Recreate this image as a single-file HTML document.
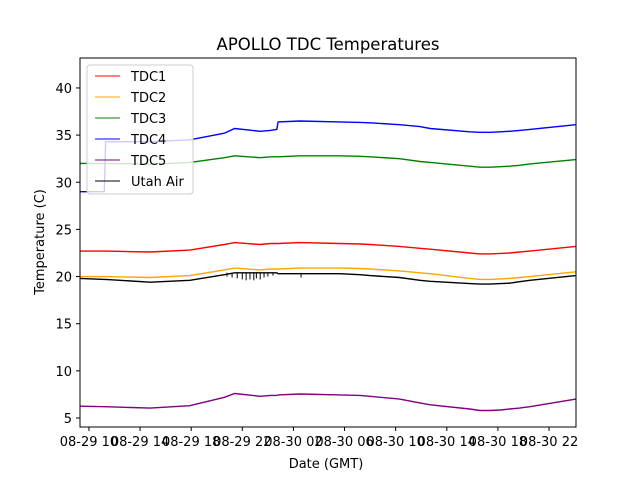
<!DOCTYPE html>
<html><head><meta charset="utf-8"><style>
body{margin:0;background:#fff;}
svg{display:block;font-family:"DejaVu Sans","Liberation Sans",sans-serif;}
</style></head><body>
<svg id="chart" width="640" height="480">
<rect width="640" height="480" fill="#fff"/>
<text x="328" y="50" text-anchor="middle" font-size="16.5">APOLLO TDC Temperatures</text>
<g id="series"></g>
<rect x="80" y="58" width="496" height="369" fill="none" stroke="#000" stroke-width="1"/>
<g id="yticks"></g><g id="xticks"></g>
<text x="326" y="468" text-anchor="middle" font-size="13">Date (GMT)</text>
<text transform="translate(44,242) rotate(-90)" text-anchor="middle" font-size="13">Temperature (C)</text>
<g id="legend"></g>
</svg>
<script>
const times = [9.3,11.2,11.3,14.8,17.9,20.6,21.4,23.4,24.2,24.7,24.8,26.5,29.6,31.2,32,34.3,35.9,36.7,39.8,40.6,41.4,42.2,42.9,43.7,44.5,48.1];
const tdc1 = [22.7,22.7,22.7,22.6,22.8,23.4,23.6,23.4,23.5,23.5,23.5,23.6,23.5,23.45,23.4,23.2,23.0,22.9,22.5,22.4,22.4,22.45,22.5,22.6,22.7,23.2];
const tdc2 = [20.0,20.0,20.0,19.9,20.1,20.7,20.9,20.7,20.8,20.8,20.8,20.9,20.9,20.85,20.8,20.6,20.4,20.3,19.8,19.7,19.7,19.75,19.8,19.9,20.0,20.5];
const tdc3 = [32.0,32.0,32.0,31.9,32.1,32.6,32.8,32.6,32.7,32.7,32.7,32.8,32.8,32.75,32.7,32.5,32.2,32.1,31.7,31.6,31.6,31.65,31.7,31.8,31.95,32.4];
const tdc4 = [29.0,29.0,34.3,34.3,34.5,35.2,35.7,35.4,35.5,35.6,36.4,36.5,36.4,36.35,36.3,36.1,35.9,35.7,35.35,35.3,35.3,35.35,35.4,35.5,35.6,36.1];
const tdc5 = [6.25,6.2,6.2,6.05,6.3,7.2,7.6,7.3,7.4,7.4,7.45,7.55,7.45,7.4,7.3,7.0,6.6,6.4,5.95,5.8,5.8,5.85,5.95,6.05,6.2,7.0];
const utah = [19.8,19.7,19.7,19.4,19.6,20.2,20.4,20.4,20.4,20.4,20.3,20.3,20.3,20.2,20.1,19.9,19.6,19.5,19.25,19.2,19.2,19.25,19.3,19.45,19.6,20.1];
const spikeTimes = [20.8,21.2,21.6,22.0,22.3,22.6,22.9,23.1,23.4,23.7,24.0,24.4,26.6];
const spikeLows = [20.0,19.9,19.8,19.7,19.6,19.7,19.6,19.8,19.7,19.9,20.0,20.1,19.9];
const yTicks = [5,10,15,20,25,30,35,40];
const xTickTimes = [10,14,18,22,26,30,34,38,42,46];
const xTickLabels = ["08-29 10","08-29 14","08-29 18","08-29 22","08-30 02","08-30 06","08-30 10","08-30 14","08-30 18","08-30 22"];
const seriesNames = ["TDC1","TDC2","TDC3","TDC4","TDC5","Utah Air"];
const seriesColors = ["#ff0000","#ffa500","#008000","#0000ff","#800080","#000000"];
const seriesData = [tdc1,tdc2,tdc3,tdc4,tdc5,utah];

const NS="http://www.w3.org/2000/svg";
const xS = t => 80 + (t-9.3)*12.78;
const yS = v => 418 - (v-5)*9.43;
function mk(tag,attrs,parent){const e=document.createElementNS(NS,tag);for(const k in attrs)e.setAttribute(k,attrs[k]);parent.appendChild(e);return e;}
const sg=document.getElementById('series');
seriesData.forEach((d,i)=>{
  const p=mk('polyline',{points:d.map((v,j)=>xS(times[j]).toFixed(1)+','+yS(v).toFixed(1)).join(' '),fill:'none',stroke:seriesColors[i],'stroke-width':1.4},sg);
  
  
});
spikeTimes.forEach((t,i)=>{
  const l=mk('line',{x1:xS(t),x2:xS(t),y1:yS(20.4),y2:yS(spikeLows[i]),stroke:'#000','stroke-width':1},sg);
  
  
});
const yt=document.getElementById('yticks');
yTicks.forEach(v=>{
  const l=mk('line',{x1:76,x2:80,y1:yS(v),y2:yS(v),stroke:'#000'},yt);
  
  
  const t=mk('text',{x:72,y:yS(v)+5,'text-anchor':'end','font-size':13},yt);
  t.textContent=v;
  
  
});
const xt=document.getElementById('xticks');
xTickTimes.forEach((tm,i)=>{
  const l=mk('line',{x1:xS(tm),x2:xS(tm),y1:427,y2:431,stroke:'#000'},xt);
  
  
  const t=mk('text',{x:xS(tm),y:446,'text-anchor':'middle','font-size':13},xt);
  t.textContent=xTickLabels[i];
  
  
});
const lg=document.getElementById('legend');
const box=mk('rect',{x:87,y:65,width:106,height:129,rx:3,fill:'#fff','fill-opacity':0.8,stroke:'#ccc'},lg);


seriesNames.forEach((n,i)=>{
  const y=76+i*21;
  const l=mk('line',{x1:95,x2:120,y1:y,y2:y,stroke:seriesColors[i],'stroke-width':1},lg);
  
  
  const t=mk('text',{x:131,y:y+5,'font-size':13},lg);
  t.textContent=n;
  
  
});
</script>
</body></html>
